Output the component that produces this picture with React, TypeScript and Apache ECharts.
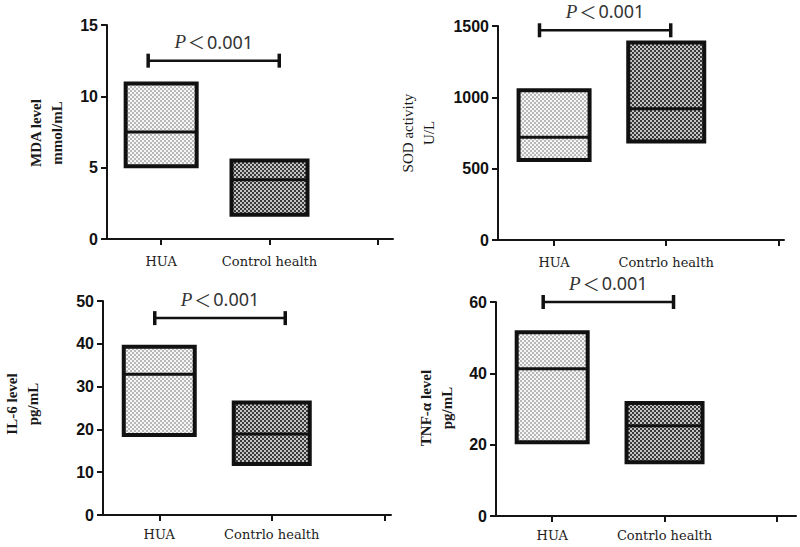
import React, { useEffect, useRef } from "react";
import * as echarts from "echarts";

// Category names (x axis) for each panel
const catsTop = ["HUA", "Control health"];
const catsSod = ["HUA", "Contrlo health"];
const catsBottom = ["HUA", "Contrlo health"];

// Box values: [low, median, high]
const mdaHUA = [5.1, 7.5, 10.9];
const mdaControl = [1.7, 4.15, 5.5];
const sodHUA = [560, 720, 1050];
const sodControl = [690, 920, 1385];
const il6HUA = [18.7, 32.9, 39.3];
const il6Control = [11.9, 18.9, 26.3];
const tnfHUA = [20.7, 41.3, 51.5];
const tnfControl = [15.1, 25.3, 31.7];

// y axis ranges
const yMaxes = [15, 1500, 50, 60];
const yIntervals = [5, 500, 10, 20];

// y axis titles
const yTitles = ["MDA level\nmmol/mL", "SOD activity\nU/L", "IL-6 level\npg/mL", "TNF-α level\npg/mL"];

// significance brackets: [x start, x end, y]
const bracketMDA = [0.88, 2.09, 12.5];
const bracketSOD = [0.87, 2.04, 1470];
const bracketIL6 = [0.96, 2.12, 46];
const bracketTNF = [0.92, 2.08, 60];
const pSymbol = "P";
const pRelation = "＜";
const pValue = "0.001";

function makePattern(bg: string, fg: string) {
  const c = document.createElement("canvas");
  c.width = 4;
  c.height = 4;
  const ctx = c.getContext("2d")!;
  ctx.fillStyle = bg;
  ctx.fillRect(0, 0, 4, 4);
  ctx.fillStyle = fg;
  ctx.fillRect(0, 0, 2, 2);
  ctx.fillRect(2, 2, 2, 2);
  return { image: c, repeat: "repeat", imageWidth: 4, imageHeight: 4 } as any;
}

export default function App() {
  const ref = useRef<HTMLDivElement>(null);
  useEffect(() => {
    document.body.style.margin = "0";
    const chart = echarts.init(ref.current!, undefined, { renderer: "svg" });
    const light = makePattern("#f6f6f6", "#b8b8b8");
    const dark = makePattern("#c4c4c4", "#3a3a3a");

    const grids = [
      { left: 107, top: 25, width: 286, height: 214 },
      { left: 498, top: 26, width: 286, height: 214 },
      { left: 103, top: 301, width: 288, height: 214 },
      { left: 496, top: 302, width: 300, height: 214 },
    ];
    const xMaxes = [3.14, 3.05, 3.06, 3.17];
    const catSets = [catsTop, catsSod, catsBottom, catsBottom];
    const boxSets = [
      [mdaHUA, mdaControl],
      [sodHUA, sodControl],
      [il6HUA, il6Control],
      [tnfHUA, tnfControl],
    ];
    const bracketSets = [bracketMDA, bracketSOD, bracketIL6, bracketTNF];
    const labelMargins = [16, 16, 13, 13];

    const axisColor = "#141414";
    const xAxis = grids.map((_, i) => ({
      type: "value",
      gridIndex: i,
      min: 0.5,
      max: xMaxes[i],
      splitLine: { show: false },
      axisLine: { show: true, lineStyle: { color: axisColor, width: 2 } },
      axisTick: { show: true, customValues: [1, 2, 3], length: 6, lineStyle: { color: axisColor, width: 2 } },
      axisLabel: {
        show: true,
        customValues: [1, 2],
        formatter: (v: number) => catSets[i][Math.round(v) - 1] ?? "",
        margin: labelMargins[i],
        fontFamily: "DejaVu Serif",
        fontSize: 13,
        color: "#222",
      },
    }));
    const yAxis = grids.map((_, i) => ({
      type: "value",
      gridIndex: i,
      min: 0,
      max: yMaxes[i],
      interval: yIntervals[i],
      splitLine: { show: false },
      axisLine: { show: true, lineStyle: { color: axisColor, width: 2 } },
      axisTick: { show: true, length: 6, lineStyle: { color: axisColor, width: 2 } },
      axisLabel: {
        margin: 9,
        formatter: (v: number) => String(v),
        fontFamily: "Liberation Sans",
        fontWeight: "bold",
        fontSize: 16,
        color: "#111",
      },
    }));

    const boxSeries = boxSets.map((set, i) => ({
      type: "custom",
      xAxisIndex: i,
      yAxisIndex: i,
      clip: false,
      data: set.map((v, g) => [g + 1, v[0], v[1], v[2], g]),
      renderItem: (params: any, api: any) => {
        const x = api.value(0);
        const g = api.value(4);
        const pLo = api.coord([x, api.value(1)]);
        const pMed = api.coord([x, api.value(2)]);
        const pHi = api.coord([x, api.value(3)]);
        const w = g === 0 ? 71 : 76;
        return {
          type: "group",
          children: [
            {
              type: "rect",
              shape: { x: pLo[0] - w / 2, y: pHi[1], width: w, height: pLo[1] - pHi[1] },
              style: { fill: g === 0 ? light : dark, stroke: "#111", lineWidth: 4 },
            },
            {
              type: "line",
              shape: { x1: pLo[0] - w / 2, y1: pMed[1], x2: pLo[0] + w / 2, y2: pMed[1] },
              style: { stroke: "#111", lineWidth: 3 },
            },
          ],
        };
      },
    }));

    const bracketSeries = bracketSets.map((b, i) => ({
      type: "custom",
      xAxisIndex: i,
      yAxisIndex: i,
      clip: false,
      data: [b],
      renderItem: (params: any, api: any) => {
        const p1 = api.coord([api.value(0), api.value(2)]);
        const p2 = api.coord([api.value(1), api.value(2)]);
        const cap = 7;
        return {
          type: "group",
          children: [
            { type: "line", shape: { x1: p1[0], y1: p1[1], x2: p2[0], y2: p2[1] }, style: { stroke: "#111", lineWidth: 2.5 } },
            { type: "line", shape: { x1: p1[0], y1: p1[1] - cap, x2: p1[0], y2: p1[1] + cap }, style: { stroke: "#111", lineWidth: 3.5 } },
            { type: "line", shape: { x1: p2[0], y1: p2[1] - cap, x2: p2[0], y2: p2[1] + cap }, style: { stroke: "#111", lineWidth: 3.5 } },
            {
              type: "text",
              x: (p1[0] + p2[0]) / 2,
              y: p1[1] - 19,
              style: {
                text: "{p|" + pSymbol + "}{r|" + pRelation + "}{n|" + pValue + "}",
                align: "center",
                verticalAlign: "middle",
                rich: {
                  p: { fontFamily: "Liberation Serif", fontStyle: "italic", fontSize: 19, fill: "#333", padding: [0, 2, 0, 0] },
                  r: { fontFamily: "Noto Sans CJK SC", fontSize: 17, fill: "#333" },
                  n: { fontFamily: "Noto Sans", fontSize: 18, fill: "#333", padding: [0, 0, 0, 2] },
                },
              },
            },
          ],
        };
      },
    }));

    const titlePos = [
      { x: 46, y: 133, bold: true },
      { x: 418, y: 133, bold: false },
      { x: 22, y: 404, bold: true },
      { x: 436, y: 408, bold: true },
    ];

    chart.setOption({
      animation: false,
      backgroundColor: "#ffffff",
      grid: grids.map((g) => ({ ...g, containLabel: false })),
      xAxis,
      yAxis,
      series: [...boxSeries, ...bracketSeries],
      graphic: yTitles.map((t, i) => ({
        type: "text",
        x: titlePos[i].x,
        y: titlePos[i].y,
        rotation: Math.PI / 2,
        style: {
          text: t,
          align: "center",
          verticalAlign: "middle",
          fontFamily: "Liberation Serif",
          fontWeight: titlePos[i].bold ? "bold" : "normal",
          fontSize: 15,
          lineHeight: 21,
          fill: "#1a1a1a",
        },
      })),
    });
    return () => chart.dispose();
  }, []);
  return <div ref={ref} style={{ width: 800, height: 547 }} />;
}
